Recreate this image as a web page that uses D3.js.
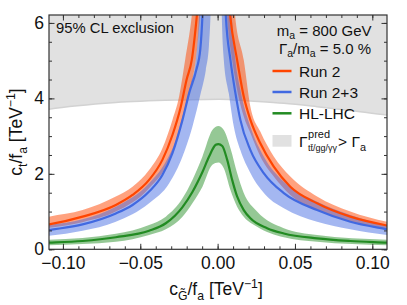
<!DOCTYPE html>
<html>
<head>
<meta charset="utf-8">
<script src="https://cdn.jsdelivr.net/npm/d3@7"></script>
<style>
  body { margin: 0; background: #fff; }
  svg text { font-family: "Liberation Sans", Arial, sans-serif; fill: #111; }
</style>
</head>
<body>
<svg id="chart" width="407" height="305"></svg>
<script>
/* --- Data (x in TeV^-1, y = c_t/f_a in TeV^-1) --- */

// Run 2 : central line and band edges, left and right branch
const run2LineLeft  = [[-0.112,0.64],[-0.109,0.66],[-0.0873,0.865],[-0.0658,1.175],[-0.055,1.44],[-0.0443,1.84],[-0.0357,2.37],[-0.0292,3.03],[-0.0238,3.78],[-0.0201,4.49],[-0.0167,5.02],[-0.0134,6.2],[-0.0125,6.6]];
const run2UpLeft    = [[-0.112,0.84],[-0.109,0.865],[-0.0873,1.04],[-0.0658,1.40],[-0.055,1.66],[-0.0443,2.10],[-0.0357,2.68],[-0.0292,3.43],[-0.0249,4.05],[-0.0210,5.02],[-0.0167,6.2],[-0.0157,6.6]];
const run2LoLeft    = [[-0.112,0.55],[-0.109,0.57],[-0.0873,0.72],[-0.0658,1.00],[-0.0443,1.62],[-0.0313,2.37],[-0.0249,3.12],[-0.0205,3.78],[-0.0163,4.49],[-0.0141,5.02],[-0.0113,6.2],[-0.0105,6.6]];
const run2LineRight = [[0.0072,6.6],[0.0081,6.2],[0.0126,5.02],[0.0169,4.05],[0.0212,3.43],[0.0276,2.81],[0.0363,2.19],[0.0470,1.66],[0.0643,1.22],[0.0858,0.865],[0.1095,0.63],[0.112,0.61]];
const run2UpRight   = [[0.0105,6.6],[0.0113,6.2],[0.0169,5.02],[0.0212,3.78],[0.0276,3.12],[0.0363,2.46],[0.0470,1.93],[0.0643,1.40],[0.0858,1.0],[0.1095,0.73],[0.112,0.71]];
const run2LoRight   = [[0.0055,6.6],[0.0061,6.2],[0.0094,5.02],[0.0126,4.23],[0.0169,3.52],[0.0212,3.08],[0.0276,2.46],[0.0363,1.93],[0.0470,1.44],[0.0643,1.04],[0.0858,0.73],[0.1095,0.51],[0.112,0.49]];

// Run 2+3
const run23LineLeft  = [[-0.112,0.49],[-0.109,0.51],[-0.0873,0.66],[-0.0658,0.95],[-0.055,1.175],[-0.0443,1.53],[-0.0357,1.97],[-0.0292,2.55],[-0.0227,3.43],[-0.0184,4.14],[-0.0138,4.75],[-0.0112,5.3],[-0.0098,6.2],[-0.0094,6.6]];
const run23UpLeft    = [[-0.112,0.63],[-0.109,0.645],[-0.0873,0.795],[-0.0658,1.13],[-0.0443,1.75],[-0.0335,2.32],[-0.0270,2.90],[-0.0216,3.69],[-0.0173,4.40],[-0.0141,5.02],[-0.0120,6.2],[-0.0116,6.6]];
const run23LoLeft    = [[-0.112,0.35],[-0.109,0.36],[-0.0873,0.49],[-0.0658,0.73],[-0.0443,1.22],[-0.0313,1.75],[-0.0227,2.46],[-0.0163,3.25],[-0.0109,4.14],[-0.0076,4.76],[-0.0056,5.4],[-0.0046,6.2],[-0.0043,6.6]];
const run23LineRight = [[0.0049,6.6],[0.0053,6.2],[0.0083,5.02],[0.0115,4.14],[0.0147,3.43],[0.0212,2.63],[0.0298,2.02],[0.0428,1.49],[0.0643,1.04],[0.0858,0.73],[0.1095,0.53],[0.112,0.51]];
const run23UpRight   = [[0.0088,6.6],[0.0092,6.2],[0.0115,5.02],[0.0147,4.23],[0.0212,3.25],[0.0298,2.46],[0.0428,1.79],[0.0643,1.26],[0.0858,0.91],[0.1095,0.645],[0.112,0.63]];
const run23LoRight   = [[0.0025,6.6],[0.0027,6.2],[0.0040,5.02],[0.0072,4.14],[0.0105,3.25],[0.0147,2.63],[0.0212,2.02],[0.0320,1.40],[0.0428,1.09],[0.0643,0.73],[0.0858,0.53],[0.1095,0.38],[0.112,0.37]];

// HL-LHC (single peaked curve)
const hlLine = [[-0.112,0.17],[-0.109,0.175],[-0.0873,0.22],[-0.0658,0.32],[-0.0443,0.49],[-0.0335,0.69],[-0.0227,1.12],[-0.0163,1.52],[-0.0098,2.05],[-0.0055,2.46],[-0.0012,2.77],[0.0005,2.79],[0.0030,2.74],[0.0062,2.37],[0.0094,1.84],[0.0126,1.40],[0.0169,1.04],[0.0212,0.82],[0.0320,0.56],[0.0428,0.42],[0.0643,0.29],[0.0858,0.22],[0.1095,0.175],[0.112,0.17]];
const hlUp   = [[-0.112,0.245],[-0.109,0.25],[-0.0658,0.41],[-0.0443,0.645],[-0.0335,0.865],[-0.0227,1.35],[-0.0163,1.84],[-0.0098,2.46],[-0.0034,3.16],[0.0005,3.27],[0.0040,3.16],[0.0083,2.68],[0.0126,2.02],[0.0169,1.49],[0.0255,1.0],[0.0428,0.56],[0.0643,0.38],[0.1095,0.25],[0.112,0.245]];
const hlLo   = [[-0.112,0.10],[-0.109,0.105],[-0.0658,0.20],[-0.0443,0.38],[-0.0335,0.53],[-0.0227,0.865],[-0.0163,1.22],[-0.0098,1.66],[-0.0034,2.24],[0.0005,2.30],[0.0040,2.15],[0.0083,1.57],[0.0126,1.13],[0.0169,0.865],[0.0255,0.6],[0.0428,0.32],[0.0643,0.20],[0.1095,0.105],[0.112,0.10]];

// lower edge of the grey "Gamma_pred > Gamma_a" region
const widthLimit = [[-0.112,3.69],[-0.109,3.71],[-0.0658,3.89],[-0.0227,3.96],[0.001,3.98],[0.0212,3.93],[0.0428,3.87],[0.0643,3.78],[0.0858,3.68],[0.1095,3.56],[0.112,3.55]];

// axes
const xDomain = [-0.109, 0.1095];
const yDomain = [0, 6.21];
const xMajor = [-0.10, -0.05, 0, 0.05, 0.10];
const yMajor = [0, 2, 4, 6];

const colors = { run2: '#ff4500', run23: '#4169e1', hl: '#228b22', grey: '#e1e1e1' };


/* --- Layout --- */
const svg = d3.select('#chart');
const plotL = 49, plotR = 387, plotT = 15, plotB = 249.3;

const x = d3.scaleLinear().domain(xDomain).range([plotL, plotR]);
const y = d3.scaleLinear().domain(yDomain).range([plotB, plotT]);

svg.append('defs').append('clipPath').attr('id', 'plotClip')
  .append('rect')
  .attr('x', plotL).attr('y', plotT)
  .attr('width', plotR - plotL).attr('height', plotB - plotT);

const plot = svg.append('g').attr('clip-path', 'url(#plotClip)');

const line = d3.line().x(d => x(d[0])).y(d => y(d[1])).curve(d3.curveMonotoneX);

// closed band between an upper and a lower edge
function bandPath(up, lo) {
  const a = line(up);
  const b = line(lo.slice().reverse());
  return a + 'L' + b.slice(1) + 'Z';
}


/* --- Grey excluded region --- */
const greyArea = d3.area()
  .x(d => x(d[0]))
  .y0(y(6.6))
  .y1(d => y(d[1]))
  .curve(d3.curveMonotoneX);

plot.append('path').attr('d', greyArea(widthLimit)).attr('fill', colors.grey);
plot.append('path').attr('d', line(widthLimit))
  .attr('fill', 'none').attr('stroke', '#d2d2d2').attr('stroke-width', 1.5);


/* --- Bands --- */
const bands = [
  [run2UpLeft, run2LoLeft, colors.run2, 0.5],
  [run2UpRight, run2LoRight, colors.run2, 0.5],
  [run23UpLeft, run23LoLeft, colors.run23, 0.48],
  [run23UpRight, run23LoRight, colors.run23, 0.48],
  [hlUp, hlLo, colors.hl, 0.48]
];
bands.forEach(([up, lo, c, a]) => {
  plot.append('path')
    .attr('d', bandPath(up, lo))
    .attr('fill', c)
    .attr('fill-opacity', a);
});


/* --- Central lines --- */
const lines = [
  [run2LineLeft, colors.run2], [run2LineRight, colors.run2],
  [run23LineLeft, colors.run23], [run23LineRight, colors.run23],
  [hlLine, colors.hl]
];
lines.forEach(([pts, c]) => {
  plot.append('path')
    .attr('d', line(pts))
    .attr('fill', 'none')
    .attr('stroke', c)
    .attr('stroke-width', 2.2);
});


/* --- Axes (inward ticks on all four sides) --- */
const xMinor = d3.range(-10, 11).map(i => i / 100);
const yMinor = d3.range(0, 13).map(i => i / 2);

function addAxis(axisFn, scale, pos, major, minor, labels) {
  const g = svg.append('g').attr('transform', pos);
  g.call(axisFn(scale).tickValues(minor).tickSize(-3).tickFormat(''));
  const g2 = svg.append('g').attr('transform', pos);
  g2.call(axisFn(scale).tickValues(major).tickSize(-5.5).tickPadding(labels ? labels.pad : 0)
    .tickFormat(labels ? labels.fmt : ''));
  [g, g2].forEach(s => {
    s.select('.domain').remove();
    s.selectAll('line').attr('stroke', '#333').attr('stroke-width', 1);
  });
  g2.selectAll('text').attr('font-size', 17.5).attr('fill', '#111')
    .attr('font-family', '"Liberation Sans", Arial, sans-serif');
  return g2;
}

const fmtX = d => d === 0 ? '0.00' : d3.format('.2f')(d).replace('-', '\u2212');
addAxis(d3.axisBottom, x, `translate(0,${plotB})`, xMajor, xMinor, { pad: 7, fmt: fmtX });
addAxis(d3.axisTop, x, `translate(0,${plotT})`, xMajor, xMinor, null);
addAxis(d3.axisLeft, y, `translate(${plotL},0)`, yMajor, yMinor, { pad: 5, fmt: d3.format('d') });
addAxis(d3.axisRight, y, `translate(${plotR},0)`, yMajor, yMinor, null);

svg.append('rect')
  .attr('x', plotL).attr('y', plotT)
  .attr('width', plotR - plotL).attr('height', plotB - plotT)
  .attr('fill', 'none').attr('stroke', '#333').attr('stroke-width', 1.2);


/* --- Rich text helper (sub / superscripts via tspans) --- */
function rich(sel, parts, size, subShift = 0.28) {
  let shift = 0;
  parts.forEach(([txt, kind]) => {
    const target = kind === 'sub' ? size * subShift : kind === 'sup' ? -size * 0.42 : 0;
    sel.append('tspan')
      .attr('dy', target - shift)
      .attr('font-size', kind ? size * 0.7 : size)
      .text(txt);
    shift = target;
  });
  return sel;
}


/* --- Axis titles --- */
rich(svg.append('text').attr('x', 216).attr('y', 295).attr('text-anchor', 'middle'),
  [['c'], ['G\u0303', 'sub'], ['/f'], ['a', 'sub'], [' [TeV'], ['\u22121', 'sup'], [']']], 17.5);

rich(svg.append('text').attr('transform', 'translate(22,132) rotate(-90)').attr('text-anchor', 'middle'),
  [['c'], ['t', 'sub'], ['/f'], ['a', 'sub'], [' [TeV'], ['\u22121', 'sup'], [']']], 17.5);


/* --- Annotations + legend --- */
svg.append('text').attr('x', 56).attr('y', 33.3).attr('font-size', 14.8).text('95% CL exclusion');

rich(svg.append('text').attr('x', 371.5).attr('y', 36).attr('text-anchor', 'end'),
  [['m'], ['a', 'sub'], [' = 800 GeV']], 15, 0.18);
rich(svg.append('text').attr('x', 371).attr('y', 53.5).attr('text-anchor', 'end'),
  [['\u0393'], ['a', 'sub'], ['/m'], ['a', 'sub'], [' = 5.0 %']], 15, 0.22);

const legendItems = [['Run 2', colors.run2, 71], ['Run 2+3', colors.run23, 92], ['HL-LHC', colors.hl, 113.3]];
legendItems.forEach(([label, c, cy]) => {
  svg.append('line')
    .attr('x1', 272.5).attr('x2', 291.5).attr('y1', cy).attr('y2', cy)
    .attr('stroke', c).attr('stroke-width', 2.5);
  svg.append('text').attr('x', 299).attr('y', cy + 5.5).attr('font-size', 15.5).text(label);
});

svg.append('rect')
  .attr('x', 272.5).attr('y', 135).attr('width', 19).attr('height', 11.7)
  .attr('fill', colors.grey);

const gam = svg.append('text').attr('x', 299).attr('y', 146.7).attr('font-size', 15.5).text('\u0393');
const gx = 299 + gam.node().getComputedTextLength() + 0.5;
const sup = svg.append('text').attr('x', gx).attr('y', 137.5).attr('font-size', 11).text('pred');
const sub = svg.append('text').attr('x', gx).attr('y', 151).attr('font-size', 9).text('tt\u0304/gg/\u03b3\u03b3');
const rx = gx + Math.max(sup.node().getComputedTextLength(), sub.node().getComputedTextLength()) + 1;
rich(svg.append('text').attr('x', rx).attr('y', 146.7),
  [['> \u0393'], ['a', 'sub']], 15.5);
</script>
</body>
</html>
